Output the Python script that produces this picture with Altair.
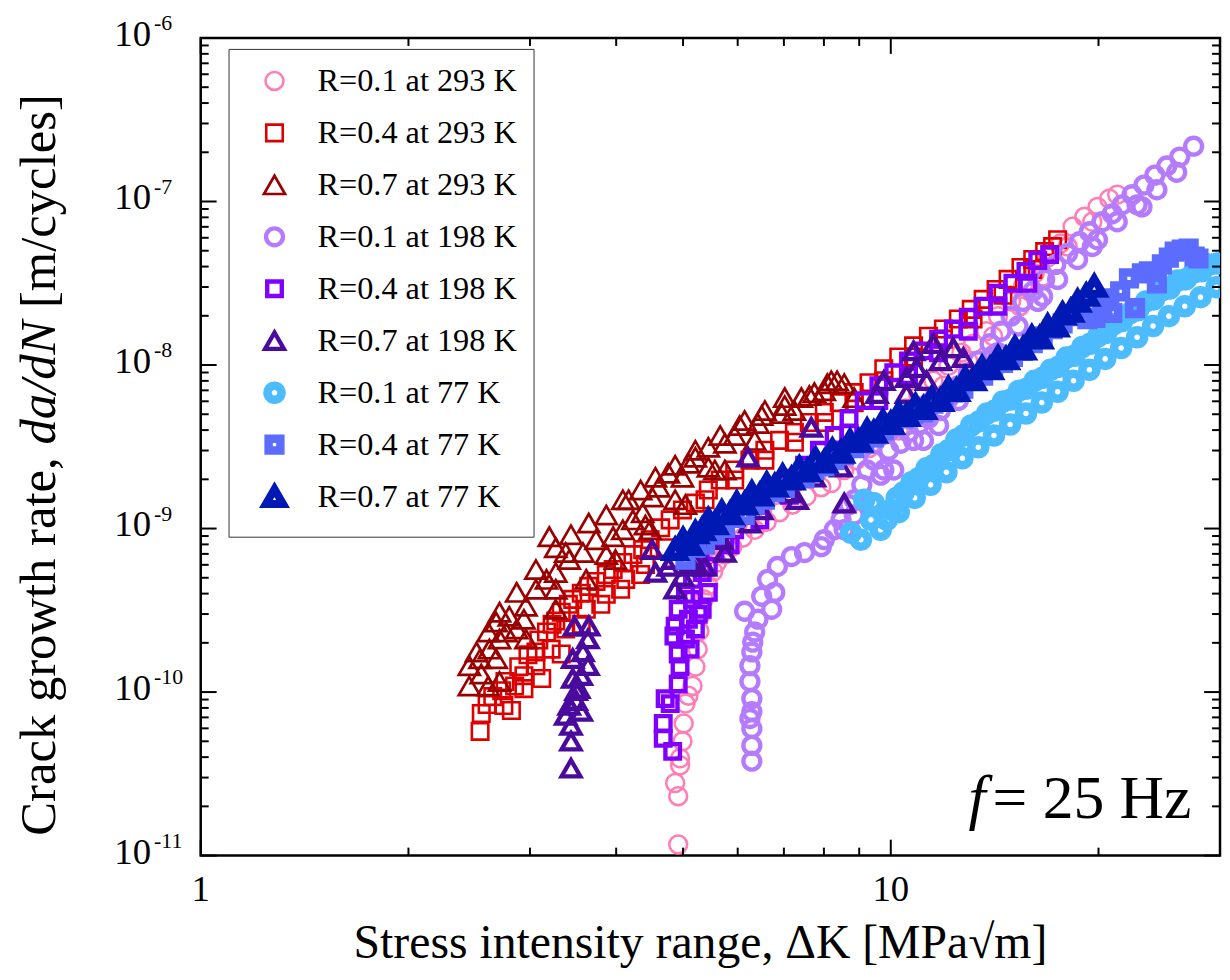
import altair as alt
import pandas as pd

FONT = "Liberation Serif"

SERIES = ["R=0.1 at 293 K", "R=0.4 at 293 K", "R=0.7 at 293 K",
          "R=0.1 at 198 K", "R=0.4 at 198 K", "R=0.7 at 198 K",
          "R=0.1 at 77 K", "R=0.4 at 77 K", "R=0.7 at 77 K"]
COLORS = ["#ff7eb6", "#dd0000", "#990000",
          "#b57bff", "#8000ff", "#4b0a9e",
          "#4cbcff", "#5b6cff", "#0018b4"]
SHAPES = ["circle", "square", "triangle-up"] * 3
SIZES = [325, 275, 450, 290, 215, 360, 200, 140, 300]
STROKES = [2.6, 2.6, 2.7, 4.4, 4.4, 4.3, 8.5, 8.5, 8.0]

# R=0.1 at 293 K
K1 = [4.92, 4.92, 4.87, 4.95, 4.95, 4.99, 5.01, 5.04, 5.09, 5.16, 5.21, 5.25, 5.28, 5.31, 5.36,
      5.44, 5.53, 5.60, 5.75, 5.89, 6.10, 6.35, 6.61, 6.90, 7.20, 7.55, 7.93, 8.20, 8.56, 8.91,
      9.30, 9.71, 10.10, 10.51, 10.97, 11.53, 12.12, 12.66, 13.16, 13.75, 14.30, 14.94, 15.54,
      16.16, 16.88, 17.62, 18.34, 19.08, 19.93, 20.73, 21.29,
      10.27, 11.15, 11.92, 12.95, 14.07, 15.39, 16.60, 18.04, 19.59]
R1 = [1.17e-11, 2.31e-11, 2.78e-11, 3.57e-11, 3.94e-11, 5.00e-11, 6.43e-11, 8.50e-11, 9.51e-11,
      1.09e-10, 1.43e-10, 1.83e-10, 2.36e-10, 2.99e-10, 3.69e-10, 4.49e-10, 5.47e-10, 6.20e-10,
      6.93e-10, 7.75e-10, 8.79e-10, 9.83e-10, 1.10e-9, 1.26e-9, 1.40e-9, 1.58e-9, 1.79e-9, 1.90e-9,
      2.28e-9, 2.62e-9, 3.10e-9, 3.82e-9, 4.58e-9, 5.42e-9, 6.50e-9, 8.02e-9, 9.89e-9, 1.19e-8,
      1.35e-8, 1.61e-8, 1.99e-8, 2.45e-8, 3.03e-8, 3.63e-8, 4.54e-8, 5.53e-8, 7.01e-8, 8.06e-8,
      9.27e-8, 1.04e-7, 1.10e-7,
      3.98e-9, 5.65e-9, 7.47e-9, 1.06e-8, 1.50e-8, 2.29e-8, 3.48e-8, 5.30e-8, 7.52e-8]

# R=0.4 at 293 K
K2 = [2.54, 2.55, 2.60, 2.65, 2.73, 2.76, 2.85, 2.89, 2.94, 2.98, 3.06, 3.09, 3.17, 3.23, 3.27,
      3.33, 3.41, 3.46, 3.56, 3.65, 3.74, 3.87, 3.96, 4.09, 4.23, 4.37, 4.48, 4.64, 4.79, 4.99,
      5.21, 5.44, 5.66, 5.94, 6.25, 6.57, 6.90, 7.25, 7.62, 8.01, 8.42, 8.85, 9.30, 9.77, 10.27,
      10.79, 11.34, 11.92, 12.53, 13.08, 13.61, 14.21, 14.79, 15.44, 16.06, 16.71, 17.16, 17.45,
      2.75, 2.94, 3.06, 3.22, 3.38, 3.62, 3.87, 4.13, 4.41, 4.71,
      5.38, 5.94, 6.57, 7.25, 8.01, 8.85, 9.77, 10.79, 11.92, 13.16, 14.54, 16.06,
      2.82, 3.12, 3.33, 3.56, 3.80, 4.06, 4.34]
R2 = [5.75e-11, 7.39e-11, 8.39e-11, 9.38e-11, 1.02e-10, 1.16e-10, 1.09e-10, 1.43e-10, 1.26e-10,
      1.69e-10, 1.76e-10, 2.08e-10, 2.33e-10, 2.60e-10, 2.72e-10, 3.08e-10, 3.44e-10, 3.69e-10,
      4.02e-10, 4.43e-10, 4.75e-10, 5.24e-10, 5.62e-10, 6.20e-10, 6.93e-10, 7.43e-10, 8.55e-10,
      1.01e-9, 1.13e-9, 1.30e-9, 1.43e-9, 1.72e-9, 1.98e-9, 2.28e-9, 2.62e-9, 3.01e-9, 3.46e-9,
      3.87e-9, 4.45e-9, 5.13e-9, 5.89e-9, 6.78e-9, 7.80e-9, 9.48e-9, 1.12e-8, 1.31e-8, 1.50e-8,
      1.66e-8, 1.91e-8, 2.19e-8, 2.52e-8, 2.90e-8, 3.34e-8, 3.95e-8, 4.42e-8, 4.94e-8, 5.30e-8,
      5.84e-8, 8.27e-11, 1.05e-10, 1.45e-10, 1.83e-10, 2.43e-10, 3.21e-10, 3.96e-10, 4.89e-10,
      6.03e-10, 7.64e-10,
      1.50e-9, 1.98e-9, 2.62e-9, 3.37e-9, 4.45e-9, 5.89e-9, 8.02e-9, 1.12e-8, 1.44e-8, 1.91e-8,
      2.67e-8, 3.84e-8,
      7.71e-11, 1.21e-10, 1.71e-10, 2.60e-10, 3.44e-10, 4.25e-10, 5.24e-10]

# R=0.7 at 293 K
K3 = [2.45, 2.45, 2.54, 2.62, 2.71, 2.61, 2.77, 2.68, 2.80, 2.94, 2.96, 3.06, 3.06, 3.17, 3.27,
      3.20, 3.42, 3.38, 3.58, 3.65, 3.74, 3.96, 4.09, 4.23, 4.37, 4.17, 4.51, 4.61, 4.76, 4.99,
      5.09, 5.21, 5.44, 5.44, 5.75, 6.14, 5.94, 6.42, 6.50, 6.95, 7.02, 7.42, 7.75, 8.09, 8.20,
      8.36, 8.56, 8.85, 2.61, 2.71, 2.87, 3.27, 3.87, 4.41, 4.87, 5.56, 6.35, 7.25, 2.55, 2.68,
      2.87, 2.71, 2.51, 3.27, 3.44, 3.87, 4.09, 4.34, 4.56, 4.87, 5.21, 5.66, 6.04, 6.57, 7.02,
      7.62, 8.01, 2.96, 3.27, 3.62, 3.99, 4.48, 5.04, 5.75]
R3 = [1.09e-10, 1.45e-10, 1.60e-10, 1.83e-10, 2.11e-10, 2.33e-10, 2.33e-10, 2.68e-10, 2.91e-10,
      2.79e-10, 3.35e-10, 4.25e-10, 5.62e-10, 4.89e-10, 5.39e-10, 8.92e-10, 6.46e-10, 7.13e-10,
      7.13e-10, 1.08e-9, 8.55e-10, 8.92e-10, 9.83e-10, 1.13e-9, 1.25e-9, 1.50e-9, 1.56e-9, 1.79e-9,
      2.18e-9, 2.06e-9, 2.51e-9, 2.73e-9, 3.14e-9, 2.37e-9, 3.32e-9, 4.58e-9, 3.71e-9, 4.39e-9,
      4.91e-9, 5.05e-9, 6.32e-9, 6.32e-9, 6.78e-9, 7.69e-9, 8.02e-9, 8.02e-9, 7.69e-9, 6.32e-9,
      1.09e-10, 1.16e-10, 2.43e-10, 4.25e-10, 6.93e-10, 1.05e-9, 1.50e-9, 2.28e-9, 3.46e-9, 5.27e-9,
      1.29e-10, 1.60e-10,
      4.07e-10, 3.08e-10, 1.76e-10, 7.64e-10, 9.17e-10, 1.21e-9, 1.50e-9, 1.72e-9, 2.06e-9,
      2.44e-9, 3.01e-9, 3.71e-9, 4.27e-9, 5.27e-9, 5.65e-9, 6.50e-9, 6.97e-9,
      2.11e-10, 3.21e-10, 4.89e-10, 6.46e-10, 9.83e-10, 1.40e-9, 2.28e-9]

# R=0.1 at 198 K
K4 = [6.29, 6.29, 6.29, 6.25, 6.29, 6.29, 6.25, 6.25, 6.29, 6.31, 6.35, 6.14, 6.42, 6.72, 6.50,
      6.79, 6.63, 6.85, 7.18, 7.50, 7.93, 8.01, 8.28, 8.47, 8.70, 8.85, 9.08, 9.24, 9.45, 9.67,
      9.93, 10.34, 10.61, 10.97, 11.34, 11.80, 12.12, 12.53, 12.95, 13.39, 13.93, 14.45, 14.94,
      15.54, 16.06, 16.71, 17.34, 18.04, 18.77, 19.40, 20.25, 20.94, 21.64, 22.37, 23.28, 24.14,
      25.12, 26.22, 27.47, 8.56, 9.15, 10.10, 11.15, 14.07, 16.60, 19.59, 23.12,
      12.53, 13.39, 14.30, 15.29, 16.33, 17.45, 18.65, 19.93, 21.29, 22.75, 24.30, 25.96,
      8.85, 9.77, 10.79, 11.73]
R4 = [3.78e-11, 4.72e-11, 5.99e-11, 6.89e-11, 7.60e-11, 9.12e-11, 1.16e-10, 1.45e-10, 1.76e-10,
      2.02e-10, 2.33e-10, 3.12e-10, 2.79e-10, 3.21e-10, 3.85e-10, 4.07e-10, 4.89e-10, 5.86e-10,
      6.74e-10, 7.13e-10, 7.75e-10, 8.55e-10, 9.83e-10, 1.13e-9, 1.40e-9, 1.50e-9, 1.85e-9, 2.28e-9,
      2.62e-9, 2.12e-9, 3.01e-9, 3.32e-9, 3.87e-9, 4.27e-9, 4.71e-9, 5.27e-9, 6.23e-9, 7.47e-9,
      8.97e-9, 1.06e-8, 1.35e-8, 1.61e-8, 1.99e-8, 2.45e-8, 2.82e-8, 3.34e-8, 4.12e-8, 4.81e-8,
      5.68e-8, 6.54e-8, 7.52e-8, 8.41e-8, 9.54e-8, 1.10e-7, 1.26e-7, 1.45e-7, 1.65e-7, 1.87e-7,
      2.18e-7, 9.83e-10, 1.50e-9, 2.28e-9, 3.46e-9, 1.14e-8, 2.63e-8, 5.30e-8, 9.27e-8,
      6.06e-9, 8.25e-9, 1.19e-8, 1.73e-8, 2.45e-8, 3.34e-8, 4.42e-8, 5.84e-8, 7.52e-8, 9.54e-8,
      1.18e-7, 1.51e-7,
      1.21e-9, 2.28e-9, 3.46e-9, 4.27e-9]

# R=0.4 at 198 K
K5 = [4.83, 4.68, 4.68, 4.71, 4.92, 4.95, 4.92, 4.85, 4.87, 5.09, 4.92, 5.16, 5.33, 5.44, 5.16,
      5.33, 5.44, 5.56, 5.75, 5.94, 6.14, 6.46, 6.79, 7.13, 7.50, 7.88, 8.28, 8.70, 9.15, 9.61,
      10.10, 10.61, 11.15, 11.73, 12.32, 12.95, 13.61, 14.30, 15.03, 15.70, 16.33, 16.99,
      5.04, 5.12, 5.21, 5.26, 5.04, 4.79,
      5.85, 6.46, 7.13, 7.88, 8.70, 9.61, 10.61, 11.73, 12.95, 14.30, 15.80]
R5 = [4.34e-11, 5.21e-11, 6.43e-11, 9.12e-11, 1.12e-10, 1.43e-10, 1.71e-10, 2.20e-10, 2.53e-10,
      2.79e-10, 3.21e-10, 3.69e-10, 3.21e-10, 4.07e-10, 4.89e-10, 5.39e-10, 5.86e-10, 7.23e-10,
      8.55e-10, 9.83e-10, 1.21e-9, 1.43e-9, 1.72e-9, 2.03e-9, 2.44e-9, 3.01e-9, 3.71e-9, 4.71e-9,
      6.06e-9, 7.47e-9, 8.97e-9, 1.06e-8, 1.22e-8, 1.44e-8, 1.66e-8, 1.96e-8, 2.29e-8, 2.75e-8,
      3.16e-8, 3.74e-8, 4.36e-8, 4.74e-8, 2.11e-10, 1.83e-10, 2.43e-10, 2.99e-10, 3.96e-10, 8.50e-11,
      7.97e-10, 1.13e-9, 1.60e-9, 2.44e-9, 3.82e-9, 6.06e-9, 8.60e-9, 1.19e-8, 1.61e-8, 2.29e-8,
      3.16e-8]

# R=0.7 at 198 K
K6 = [3.44, 3.44, 3.44, 3.38, 3.56, 3.42, 3.50, 3.50, 3.53, 3.46, 3.56, 3.64, 3.46, 3.58, 3.64,
      3.48, 3.65, 4.51, 4.56, 4.76, 4.83, 4.87, 4.99, 5.16, 5.21, 5.38, 5.69, 5.75, 6.25, 6.50,
      6.21, 7.18, 7.32, 7.67, 7.75, 8.47, 8.56, 9.55, 9.77, 10.54, 10.54, 10.79, 10.90, 11.27,
      11.53, 11.80, 12.32, 12.74]
R6 = [3.42e-11, 5.00e-11, 6.25e-11, 7.19e-11, 7.60e-11, 8.27e-11, 8.87e-11, 1.02e-10, 1.05e-10,
      1.21e-10, 1.26e-10, 1.45e-10, 1.60e-10, 1.76e-10, 2.11e-10, 2.53e-10, 2.53e-10, 7.43e-10,
      5.39e-10, 5.86e-10, 6.46e-10, 4.25e-10, 5.10e-10, 5.86e-10, 6.20e-10, 5.86e-10, 8.55e-10,
      7.13e-10, 1.08e-9, 1.30e-9, 2.73e-9, 1.65e-9, 1.50e-9, 4.15e-9, 2.06e-9, 2.37e-9, 1.43e-9,
      6.68e-9, 8.02e-9, 6.68e-9, 8.36e-9, 1.22e-8, 9.62e-9, 8.02e-9, 1.35e-8, 1.06e-8, 1.27e-8,
      1.11e-8]

# R=0.1 at 77 K
K7 = [8.76, 9.05, 9.15, 9.36, 9.45, 9.67, 9.87, 10.00, 10.20, 10.44, 10.72, 10.97, 11.27, 11.53,
      11.84, 12.12, 12.45, 12.74, 13.08, 13.43, 13.79, 14.16, 14.54, 14.94, 15.33, 15.75, 16.16,
      16.60, 17.05, 17.51, 17.98, 18.46, 18.95, 19.46, 19.98, 20.52, 21.07, 21.64, 22.22, 22.82,
      23.43, 24.06, 24.71, 25.37, 26.05, 26.75, 27.47, 28.21, 28.96, 29.74,
      10.27, 10.83, 11.42, 12.04, 12.70, 13.39, 14.11, 14.89, 15.70, 16.55, 17.45, 18.40, 19.40,
      20.45, 21.57, 22.75, 23.99, 25.29, 26.67, 28.11, 29.65]
R7 = [9.43e-10, 8.55e-10, 1.50e-9, 1.13e-9, 1.43e-9, 9.83e-10, 1.13e-9, 1.30e-9, 1.54e-9, 1.67e-9,
      1.92e-9, 2.03e-9, 2.34e-9, 2.44e-9, 2.85e-9, 3.01e-9, 3.51e-9, 3.71e-9, 4.27e-9, 4.52e-9,
      5.05e-9, 5.27e-9, 5.98e-9, 6.15e-9, 6.97e-9, 7.17e-9, 8.02e-9, 8.36e-9, 9.35e-9, 9.75e-9,
      1.11e-8, 1.14e-8, 1.29e-8, 1.35e-8, 1.50e-8, 1.57e-8, 1.78e-8, 1.86e-8, 2.08e-8, 2.16e-8,
      2.45e-8, 2.52e-8, 2.86e-8, 2.94e-8, 3.29e-8, 3.34e-8, 3.68e-8, 3.74e-8, 4.12e-8, 4.18e-8,
      1.26e-9, 1.54e-9, 1.85e-9, 2.21e-9, 2.69e-9, 3.14e-9, 3.71e-9, 4.33e-9, 5.05e-9, 5.89e-9,
      6.87e-9, 8.02e-9, 9.35e-9, 1.09e-8, 1.27e-8, 1.48e-8, 1.73e-8, 1.99e-8, 2.29e-8, 2.60e-8,
      2.99e-8]

# R=0.4 at 77 K
K8 = [5.04, 5.21, 5.38, 5.56, 5.75, 5.94, 6.14, 6.35, 6.57, 6.79, 7.02, 7.25, 7.50, 7.75, 8.01,
      8.28, 8.56, 8.85, 9.15, 9.45, 9.77, 10.10, 10.44, 10.79, 11.15, 11.53, 11.92, 12.32, 12.74,
      13.16, 13.61, 14.07, 14.54, 15.03, 15.54, 16.06, 16.60, 17.16, 17.74, 18.34, 18.83, 19.27,
      19.79, 20.25, 20.73, 20.94, 21.50, 22.14, 22.59, 23.12, 23.66, 24.30, 24.71, 25.29, 25.79,
      26.40, 27.02, 27.56, 27.92]
R8 = [6.46e-10, 7.64e-10, 7.97e-10, 9.17e-10, 1.01e-9, 1.16e-9, 1.21e-9, 1.40e-9, 1.50e-9, 1.67e-9,
      1.77e-9, 1.98e-9, 2.03e-9, 2.28e-9, 2.41e-9, 2.62e-9, 2.81e-9, 3.10e-9, 3.32e-9, 3.61e-9,
      3.98e-9, 4.27e-9, 4.71e-9, 5.05e-9, 5.13e-9, 5.81e-9, 6.06e-9, 6.78e-9, 7.17e-9, 8.02e-9,
      8.60e-9, 9.48e-9, 1.03e-8, 1.12e-8, 1.22e-8, 1.36e-8, 1.50e-8, 1.66e-8, 1.80e-8, 1.99e-8,
      2.29e-8, 1.91e-8, 1.94e-8, 2.29e-8, 2.56e-8, 2.08e-8, 2.82e-8, 3.39e-8, 2.23e-8, 3.63e-8,
      3.74e-8, 3.16e-8, 4.12e-8, 4.54e-8, 4.94e-8, 5.08e-8, 5.15e-8, 4.61e-8, 4.48e-8]

# R=0.7 at 77 K
K9 = [4.87, 5.00, 5.12, 5.21, 5.33, 5.44, 5.56, 5.69, 5.85, 5.98, 6.14, 6.29, 6.46, 6.61, 6.79,
      6.97, 7.18, 7.37, 7.57, 7.78, 8.01, 8.23, 8.47, 8.73, 8.99, 9.24, 9.45, 9.74, 10.00, 10.27,
      10.54, 10.86, 11.15, 11.46, 11.80, 12.12, 12.45, 12.82, 13.16, 13.56, 13.93, 14.30, 14.69,
      15.13, 15.54, 16.01, 16.44, 16.88, 17.34, 17.74, 18.22, 18.65, 19.20, 19.72]
R9 = [7.43e-10, 8.55e-10, 7.97e-10, 9.43e-10, 9.83e-10, 1.13e-9, 1.07e-9, 1.26e-9, 1.23e-9, 1.43e-9,
      1.41e-9, 1.65e-9, 1.60e-9, 1.87e-9, 1.82e-9, 2.09e-9, 2.01e-9, 2.34e-9, 2.25e-9, 2.65e-9,
      2.55e-9, 3.01e-9, 2.93e-9, 3.42e-9, 3.42e-9, 3.98e-9, 3.87e-9, 4.52e-9, 4.39e-9, 5.05e-9,
      4.91e-9, 5.65e-9, 5.42e-9, 6.23e-9, 6.06e-9, 7.17e-9, 6.97e-9, 8.25e-9, 8.13e-9, 9.62e-9,
      9.48e-9, 1.11e-8, 1.09e-8, 1.27e-8, 1.25e-8, 1.48e-8, 1.46e-8, 1.73e-8, 1.73e-8, 2.05e-8,
      2.13e-8, 2.45e-8, 2.67e-8, 3.03e-8]

X_MAJOR = [1, 10]
X_LABELS = ["1", "10"]
X_MINOR = [2, 3, 4, 5, 6, 7, 8, 9, 20]
Y_MAJOR = [1e-11, 1e-10, 1e-9, 1e-8, 1e-7, 1e-6]
Y_EXP = ["-11", "-10", "-9", "-8", "-7", "-6"]
Y_MINOR = [m * 10.0 ** e for e in range(-11, -6) for m in range(2, 10)]

X_TITLE = "Stress intensity range, \u0394K [MPa\u221am]"
Y_TITLE_PARTS = ["Crack growth rate,", "da/dN", "[m/cycles]"]
NOTE_PARTS = ["f", "= 25 Hz"]

W, H = 1026, 823

frames = []
for name, k, r in zip(SERIES, [K1, K2, K3, K4, K5, K6, K7, K8, K9],
                      [R1, R2, R3, R4, R5, R6, R7, R8, R9]):
    assert len(k) == len(r), name
    frames.append(pd.DataFrame({"series": name, "dK": k, "rate": r}))
df = pd.concat(frames, ignore_index=True)

xscale = alt.Scale(type="log", domain=[1, 30], nice=False)
yscale = alt.Scale(type="log", domain=[1e-11, 1e-6], nice=False)

leg = alt.Legend(title=None, orient="none", legendX=28, legendY=11, padding=16,
                 symbolOffset=14, labelOffset=27, rowPadding=3.3, gridAlign="all",
                 labelFont=FONT, labelFontSize=32.5, labelColor="black", labelLimit=500,
                 strokeColor="#333333", fillColor="white")

points = alt.Chart(df).mark_point(filled=False, opacity=1, clip=True).encode(
    x=alt.X("dK:Q", scale=xscale, axis=None),
    y=alt.Y("rate:Q", scale=yscale, axis=None),
    color=alt.Color("series:N", scale=alt.Scale(domain=SERIES, range=COLORS), legend=leg),
    shape=alt.Shape("series:N", scale=alt.Scale(domain=SERIES, range=SHAPES), legend=leg),
    size=alt.Size("series:N", scale=alt.Scale(type="ordinal", domain=SERIES, range=SIZES), legend=leg),
    strokeWidth=alt.StrokeWidth("series:N", scale=alt.Scale(type="ordinal", domain=SERIES, range=STROKES), legend=leg),
)

def xticks(vals, length):
    d = pd.DataFrame({"v": vals})
    base = alt.Chart(d).mark_rule(color="black", strokeWidth=2)
    enc = dict(x=alt.X("v:Q", scale=xscale, axis=None))
    bottom = base.encode(y=alt.value(H), y2=alt.value(H - length), **enc)
    top = base.encode(y=alt.value(0), y2=alt.value(length), **enc)
    return [bottom, top]

def yticks(vals, length):
    d = pd.DataFrame({"v": vals})
    base = alt.Chart(d).mark_rule(color="black", strokeWidth=2)
    enc = dict(y=alt.Y("v:Q", scale=yscale, axis=None))
    left = base.encode(x=alt.value(0), x2=alt.value(length), **enc)
    right = base.encode(x=alt.value(W), x2=alt.value(W - length), **enc)
    return [left, right]

ticks = xticks(X_MAJOR, 16) + xticks(X_MINOR, 8) + yticks(Y_MAJOR, 16) + yticks(Y_MINOR, 8)

# x tick labels and title
xlab = alt.Chart(pd.DataFrame({"v": X_MAJOR, "t": X_LABELS})).mark_text(
    align="center", baseline="alphabetic", font=FONT, fontSize=37, color="black").encode(
    x=alt.X("v:Q", scale=xscale, axis=None), y=alt.value(H + 46), text="t:N")
xtitle = alt.Chart(pd.DataFrame({"t": [X_TITLE]})).mark_text(
    align="center", baseline="alphabetic", font=FONT, fontSize=48, color="black").encode(
    x=alt.value(503), y=alt.value(H + 103), text="t:N")

# y tick labels as 10 with superscript exponent
ylab_df = pd.DataFrame({"v": Y_MAJOR, "exp": Y_EXP})
ten = alt.Chart(ylab_df).mark_text(align="right", baseline="alphabetic", dy=8, font=FONT,
                                   fontSize=37, color="black").encode(
    y=alt.Y("v:Q", scale=yscale, axis=None), x=alt.value(-50), text=alt.value("10"))
expo = alt.Chart(ylab_df).mark_text(align="left", baseline="alphabetic", dy=-8, font=FONT,
                                    fontSize=22, color="black").encode(
    y=alt.Y("v:Q", scale=yscale, axis=None), x=alt.value(-47), text="exp:N")

# y-axis title (mixed upright / italic), rotated
TS = 51
Y0 = 803
starts = [Y0, Y0 - (7.47 + 0.25) * TS, Y0 - (7.47 + 0.25 + 2.445 + 0.25) * TS]
ytitle = []
for part, st, style in zip(Y_TITLE_PARTS, starts, ["normal", "italic", "normal"]):
    ytitle.append(alt.Chart(pd.DataFrame({"t": [part]})).mark_text(
        align="left", baseline="alphabetic", angle=270, font=FONT, fontSize=TS,
        fontStyle=style, color="black").encode(
        text="t:N", x=alt.value(-147), y=alt.value(st)))

note_f = alt.Chart(pd.DataFrame({"t": [NOTE_PARTS[0]]})).mark_text(
    align="right", baseline="alphabetic", font=FONT, fontSize=62, fontStyle="italic",
    color="black").encode(text="t:N", x=alt.value(790), y=alt.value(785))
note_rest = alt.Chart(pd.DataFrame({"t": [NOTE_PARTS[1]]})).mark_text(
    align="left", baseline="alphabetic", font=FONT, fontSize=62, color="black").encode(
    text="t:N", x=alt.value(797), y=alt.value(785))

chart = alt.layer(points, *ticks, xlab, xtitle, ten, expo, *ytitle, note_f, note_rest).properties(
    width=W, height=H,
    padding={"left": 194, "top": 27, "right": 2, "bottom": 114},
    autosize=alt.AutoSizeParams(type="none"),
).configure_view(stroke="black", strokeWidth=2.5)

chart.save("out.html", embed_options={"renderer": "svg", "actions": False})
